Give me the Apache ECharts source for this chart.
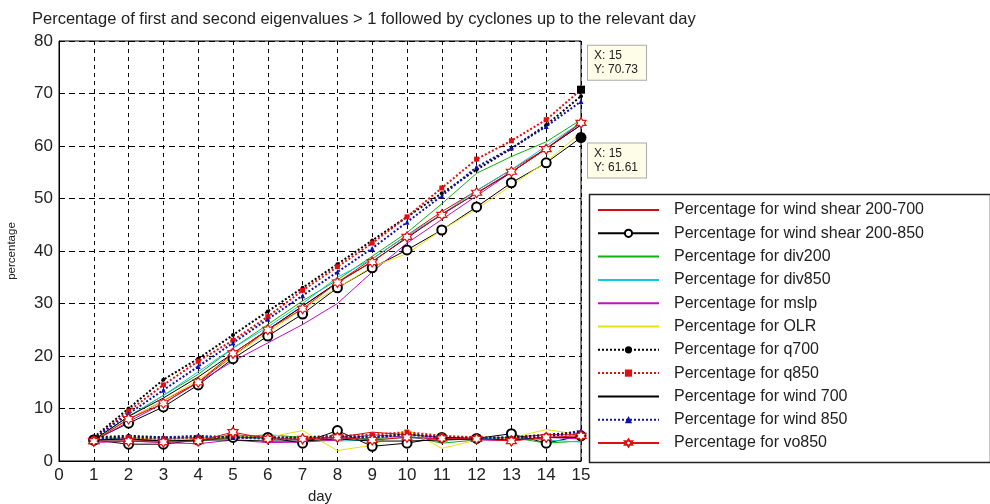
<!DOCTYPE html>
<html>
<head>
<meta charset="utf-8">
<script src="https://cdn.jsdelivr.net/npm/echarts@6/dist/echarts.min.js"></script>
<style>html,body{margin:0;padding:0;background:#fff}#c{width:990px;height:504px}</style>
</head>
<body>
<div id="c"></div>
<script>
var days = [1,2,3,4,5,6,7,8,9,10,11,12,13,14,15];
var xTicks = [0,1,2,3,4,5,6,7,8,9,10,11,12,13,14,15];
var yTicks = [0,10,20,30,40,50,60,70,80];
var names = ['Percentage for wind shear 200-700','Percentage for wind shear 200-850','Percentage for div200','Percentage for div850','Percentage for mslp','Percentage for OLR','Percentage for q700','Percentage for q850','Percentage for wind 700','Percentage for wind 850','Percentage for vo850'];

// first eigenvalue (rising) series
var ws700_1 = [4.0, 8.0, 11.5, 15.0, 20.0, 25.0, 29.5, 34.0, 38.5, 43.0, 47.5, 51.5, 55.5, 59.5, 64.5];
var ws850_1 = [4.0, 7.2, 10.3, 14.5, 19.5, 23.8, 28.0, 33.0, 36.8, 40.2, 44.0, 48.4, 53.0, 56.8, 61.61];
var div200_1 = [4.0, 8.5, 12.5, 16.5, 21.5, 26.0, 30.5, 34.5, 39.0, 43.5, 49.0, 54.8, 58.0, 60.8, 65.0];
var div850_1 = [4.0, 8.5, 12.5, 17.0, 21.5, 25.5, 30.0, 35.0, 38.5, 43.0, 47.0, 51.5, 55.5, 60.0, 64.5];
var mslp_1 = [3.8, 7.5, 11.0, 15.0, 19.0, 22.5, 26.0, 30.0, 36.0, 41.5, 46.0, 50.5, 55.0, 59.5, 64.0];
var olr_1 = [4.0, 8.0, 11.5, 15.5, 20.0, 24.5, 29.0, 33.0, 37.0, 39.5, 44.0, 48.0, 52.5, 57.0, 62.5];
var q700_1 = [4.5, 10.0, 15.5, 19.5, 24.0, 28.5, 33.0, 37.5, 42.0, 46.5, 51.0, 55.5, 59.5, 64.0, 69.5];
var q850_1 = [4.2, 9.5, 14.5, 19.0, 23.0, 27.5, 32.5, 37.0, 41.5, 46.5, 52.0, 57.5, 61.0, 65.0, 70.73];
var w700_1 = [4.0, 8.5, 12.0, 16.0, 20.5, 25.0, 29.5, 34.0, 38.0, 42.5, 47.0, 51.0, 55.0, 59.5, 64.0];
var w850_1 = [4.3, 9.0, 13.5, 18.0, 22.5, 27.0, 31.5, 36.0, 40.5, 45.5, 50.5, 56.0, 59.6, 63.7, 68.5];
var vo850_1 = [3.8, 8.0, 11.0, 15.0, 20.5, 25.0, 29.0, 34.0, 37.9, 42.7, 46.9, 51.1, 55.1, 59.4, 64.4];

// second eigenvalue (flat) series
var ws700_2 = [4.0, 4.0, 3.8, 4.0, 5.0, 4.5, 4.0, 4.5, 5.5, 5.0, 4.5, 4.2, 4.5, 5.0, 5.0];
var ws850_2 = [4.0, 3.2, 3.2, 4.0, 4.5, 4.5, 3.4, 5.8, 2.8, 3.4, 4.5, 4.3, 5.2, 3.4, 4.8];
var div200_2 = [4.0, 4.5, 4.0, 3.8, 4.5, 5.0, 4.5, 4.5, 4.2, 4.8, 3.4, 4.0, 4.5, 3.4, 3.8];
var div850_2 = [4.0, 4.0, 4.2, 4.5, 4.5, 4.2, 4.5, 3.8, 4.0, 4.5, 4.0, 4.2, 4.5, 4.0, 3.6];
var mslp_2 = [3.5, 3.8, 3.5, 3.3, 4.0, 3.5, 3.6, 4.0, 5.0, 4.5, 4.2, 4.0, 3.9, 4.5, 4.2];
var olr_2 = [4.5, 4.5, 4.0, 4.2, 4.8, 4.5, 5.8, 2.0, 3.0, 6.0, 2.4, 4.0, 4.4, 6.0, 5.0];
var q700_2 = [4.5, 4.8, 4.5, 4.5, 4.5, 4.5, 4.5, 4.8, 4.5, 5.2, 4.5, 4.5, 4.5, 5.0, 5.5];
var q850_2 = [4.2, 4.5, 4.2, 4.5, 4.5, 4.2, 4.2, 4.8, 5.0, 5.5, 4.8, 4.5, 4.2, 4.8, 5.2];
var w700_2 = [4.0, 4.2, 3.8, 4.0, 4.0, 3.8, 3.8, 4.2, 3.8, 3.8, 4.0, 4.2, 4.0, 4.5, 4.5];
var w850_2 = [4.2, 4.5, 4.5, 4.8, 4.5, 4.5, 4.3, 4.5, 4.5, 5.0, 4.5, 4.2, 4.5, 4.5, 5.8];
var vo850_2 = [3.8, 3.8, 3.6, 3.8, 5.5, 4.2, 4.2, 4.5, 4.0, 4.5, 4.3, 4.2, 3.8, 4.5, 4.8];

var tips = [{series: 7, day: 15, value: 70.73, dy: -27}, {series: 1, day: 15, value: 61.61, dy: 23}];

var hexagram = 'path://M0,-10L2.9,-5L8.66,-5L5.8,0L8.66,5L2.9,5L0,10L-2.9,5L-8.66,5L-5.8,0L-8.66,-5L-2.9,-5Z';

var styles = [
  {color: '#d01010', type: 'solid', symbol: 'none'},
  {color: '#000000', type: 'solid', symbol: 'emptyCircle', size: 9},
  {color: '#10b010', type: 'solid', symbol: 'none'},
  {color: '#10c8e0', type: 'solid', symbol: 'none'},
  {color: '#c010c0', type: 'solid', symbol: 'none'},
  {color: '#e8e010', type: 'solid', symbol: 'none'},
  {color: '#000000', type: 'dotted', symbol: 'circle', size: 4, w: 2},
  {color: '#e01010', type: 'dotted', symbol: 'rect', size: 5, w: 2},
  {color: '#000000', type: 'solid', symbol: 'none'},
  {color: '#1010b0', type: 'dotted', symbol: 'triangle', size: 5, w: 2},
  {color: '#e01010', type: 'solid', symbol: hexagram, size: 10, hollow: true}
];

var first = [ws700_1, ws850_1, div200_1, div850_1, mslp_1, olr_1, q700_1, q850_1, w700_1, w850_1, vo850_1];
var second = [ws700_2, ws850_2, div200_2, div850_2, mslp_2, olr_2, q700_2, q850_2, w700_2, w850_2, vo850_2];

function pairs(arr) { return days.map(function (d, i) { return [d, arr[i]]; }); }

function makeSeries(idx, arr, withTip) {
  var st = styles[idx];
  var s = {
    name: names[idx],
    type: 'line',
    data: pairs(arr),
    symbol: st.symbol,
    symbolSize: st.size || 6,
    showSymbol: st.symbol !== 'none',
    lineStyle: {color: st.color, width: st.w || 1, type: st.type},
    itemStyle: st.hollow ? {color: '#ffffff', borderColor: st.color, borderWidth: 1.2} : {color: st.color},
    emphasis: {disabled: true},
    animation: false,
    z: 3
  };
  if (withTip) {
    var t = withTip;
    s.markPoint = {
      symbol: 'rect', symbolSize: 8,
      itemStyle: {color: '#000'},
      data: [{coord: [t.day, t.value], value: t.value}],
      label: {
        show: true, position: 'right', distance: 3, offset: [0, t.dy],
        formatter: function (p) { return 'X: ' + t.day + '\nY: ' + p.value; },
        color: '#222', fontSize: 12, fontFamily: 'Liberation Sans, Arial', lineHeight: 14,
        backgroundColor: '#fdfde8', borderColor: '#aaa', borderWidth: 1, padding: [3, 8, 3, 6], align: 'left'
      },
      animation: false
    };
  }
  return s;
}

var series = [];
for (var i = 0; i < 11; i++) {
  var tip = null;
  tips.forEach(function (t) { if (t.series === i) tip = t; });
  series.push(makeSeries(i, first[i], tip));
}
for (var j = 0; j < 11; j++) series.push(makeSeries(j, second[j], null));

var legendData = names.map(function (n, k) {
  var st = styles[k];
  var item = {name: n};
  if (st.symbol === 'none') item.itemStyle = {opacity: 0};
  return item;
});

var chart = echarts.init(document.getElementById('c'));
chart.setOption({
  animation: false,
  backgroundColor: '#fff',
  title: {
    text: 'Percentage of first and second eigenvalues > 1 followed by cyclones up to the relevant day',
    left: 27, top: 6,
    textStyle: {fontSize: 16.5, fontWeight: 'normal', color: '#222', fontFamily: 'Liberation Sans, Arial'}
  },
  grid: {left: 59, right: 409, top: 41, bottom: 43, show: true, borderColor: '#000', borderWidth: 1, backgroundColor: 'transparent', containLabel: false, outerBoundsMode: 'none'},
  xAxis: {
    type: 'value', min: xTicks[0], max: xTicks[xTicks.length - 1], interval: 1,
    name: 'day', nameLocation: 'middle', nameGap: 28,
    nameTextStyle: {fontSize: 15, color: '#222', fontFamily: 'Liberation Sans, Arial'},
    axisLine: {lineStyle: {color: '#000'}},
    axisTick: {inside: true, length: 4, lineStyle: {color: '#000'}},
    axisLabel: {fontSize: 17, color: '#222', margin: 6, fontFamily: 'Liberation Sans, Arial'},
    splitLine: {show: true, lineStyle: {color: '#000', type: [4, 4], width: 1}}
  },
  yAxis: {
    type: 'value', min: yTicks[0], max: yTicks[yTicks.length - 1], interval: 10,
    name: 'percentage', nameLocation: 'middle', nameGap: 41,
    nameTextStyle: {fontSize: 11.5, color: '#222', fontFamily: 'Liberation Sans, Arial'},
    axisLine: {show: true, lineStyle: {color: '#000'}},
    axisTick: {show: true, inside: true, length: 4, lineStyle: {color: '#000'}},
    axisLabel: {fontSize: 17, color: '#222', margin: 6, fontFamily: 'Liberation Sans, Arial'},
    splitLine: {show: true, lineStyle: {color: '#000', type: [6, 4], width: 1}}
  },
  legend: {
    orient: 'vertical', left: 592, top: 197,
    data: legendData,
    itemWidth: 61, itemHeight: 9, itemGap: 7.3,
    textStyle: {fontSize: 16, lineHeight: 16, color: '#222', fontFamily: 'Liberation Sans, Arial', padding: [0, 0, 0, 10]},
    selectedMode: false
  },
  graphic: [{
    type: 'rect', left: 587, top: 192,
    shape: {width: 401, height: 268},
    style: {fill: 'none', stroke: '#222', lineWidth: 1.5},
    z: 0
  }],
  series: series
});
</script>
</body>
</html>
